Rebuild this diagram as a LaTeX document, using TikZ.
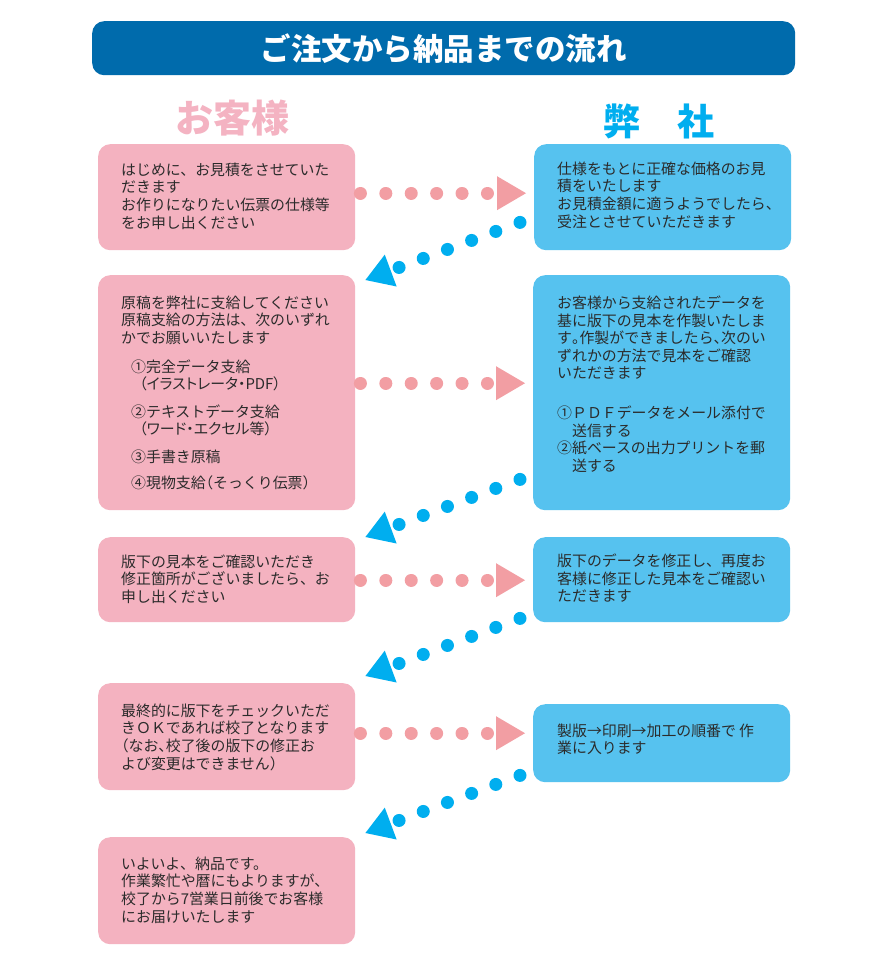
\documentclass[tikz,border=0pt]{standalone}
\usepackage{fontspec}
\setmainfont{Noto Sans CJK JP}
\newfontfamily\cjkhalt[RawFeature=+halt]{Noto Sans CJK JP}
\newfontfamily\cjkpalt[RawFeature=+palt]{Noto Sans CJK JP}
\newcommand{\hw}[1]{{\cjkhalt #1}}
\usetikzlibrary{arrows.meta,calc}
\definecolor{barblue}{HTML}{006BAC}
\definecolor{boxpink}{HTML}{F4B2C0}
\definecolor{boxblue}{HTML}{56C2EF}
\definecolor{arrowpink}{HTML}{F29EA3}
\definecolor{arrowblue}{HTML}{00AEEF}
\definecolor{headpink}{HTML}{F4B3C2}
\definecolor{headcyan}{HTML}{00AEEF}
\definecolor{txtgray}{HTML}{2B2B2B}
\tikzset{
  pbox/.style={fill=boxpink, rounded corners=12pt, anchor=north west, minimum width=257pt, inner sep=0pt},
  bbox/.style={fill=boxblue, rounded corners=12pt, anchor=north west, minimum width=257pt, inner sep=0pt},
  txt/.style={anchor=north west, inner sep=0pt, align=left, text=txtgray,
    font=\fontsize{14.9pt}{17.6pt}\selectfont},
  pinkflow/.style={draw=arrowpink, line width=13pt, line cap=round,
    dash pattern=on 0.01pt off 25.4pt, dash phase=20.4pt, shorten >=8pt,
    -{Triangle[length=29pt,width=34pt,line width=0pt]}},
  blueflow/.style={draw=arrowblue, line width=13pt, line cap=round,
    dash pattern=on 0.01pt off 25.8pt,
    -{Triangle[length=27pt,width=34pt,line width=0pt]}},
}
\begin{document}
\begin{tikzpicture}[x=1pt,y=-1pt]
\fill[white] (0,0) rectangle (876,974);
\useasboundingbox (0,0) rectangle (876,974);

% title
\node[fill=barblue, rounded corners=12pt, anchor=north west, minimum width=703pt,
  minimum height=54pt, inner sep=0pt, text=white,
  font=\bfseries\fontsize{30.5pt}{32pt}\selectfont] (title) at (92,21) {ご注文から納品までの流れ};

% headings
\node[text=headpink, font=\bfseries\fontsize{38pt}{40pt}\selectfont] (cust) at (232,118) {お客様};
\node[text=headcyan, font=\bfseries\fontsize{37pt}{40pt}\selectfont] (us) at (658.5,121) {弊　社};

% boxes
\node[pbox, minimum height=106pt] (l1) at (98,144) {};
\node[pbox, minimum height=235pt] (l2) at (98,275) {};
\node[pbox, minimum height=85pt]  (l3) at (98,537) {};
\node[pbox, minimum height=107pt] (l4) at (98,683) {};
\node[pbox, minimum height=107pt] (l5) at (98,837) {};
\node[bbox, minimum height=106pt] (r1) at (534,144) {};
\node[bbox, minimum height=235pt] (r2) at (533,275) {};
\node[bbox, minimum height=85pt]  (r3) at (533,537) {};
\node[bbox, minimum height=78pt]  (r4) at (533,704) {};

% texts
\node[txt] (l1t) at (121,162.6) {はじめに、お見積をさせていた\\だきます\\お作りになりたい伝票の仕様等\\をお申し出ください};
\node[txt] (r1t) at (557,161.6) {仕様をもとに正確な価格のお見\\積をいたします\\お見積金額に適うようでしたら、\\受注とさせていただきます};
\node[txt] (l2t) at (121,295.6) {原稿を弊社に支給してください\\原稿支給の方法は、次のいずれ\\かでお願いいたします\\[11pt]
\hspace*{10pt}①完全データ支給\\
\hspace*{18pt}{\cjkpalt （イラストレータ・PDF）}\\[10pt]
\hspace*{10pt}②テキストデータ支給\\
\hspace*{18pt}{\cjkpalt （ワード・エクセル等）}\\[10pt]
\hspace*{10pt}③手書き原稿\\[8pt]
\hspace*{10pt}④現物支給\hw{（}そっくり伝票\hw{）}};
\node[txt] (r2t) at (557,295.6) {お客様から支給されたデータを\\基に版下の見本を作製いたしま\\す\hw{。}作製ができましたら\hw{、}次のい\\ずれかの方法で見本をご確認\\いただきます\\[22pt]
①ＰＤＦデータをメール添付で\\　送信する\\②紙ベースの出力プリントを郵\\　送する};
\node[txt] (l3t) at (121,554.6) {版下の見本をご確認いただき\\修正箇所がございましたら、お\\申し出ください};
\node[txt] (r3t) at (557,553.6) {版下のデータを修正し、再度お\\客様に修正した見本をご確認い\\ただきます};
\node[txt] (l4t) at (121,703.6) {最終的に版下をチェックいただ\\きＯＫであれば校了となります\\\hw{（}なお\hw{、}校了後の版下の修正お\\よび変更はできません）};
\node[txt] (r4t) at (557,723.6) {製版→印刷→加工の順番で\hspace{3pt}作\\業に入ります};
\node[txt] (l5t) at (121,856.6) {いよいよ、納品です。\\作業繁忙や暦にもよりますが、\\校了から7営業日前後でお客様\\にお届けいたします};

% pink flows (customer -> company)
\coordinate (p1) at ([yshift=4pt]l1.east);
\coordinate (p2) at ([yshift=9.5pt]l2.east);
\coordinate (p3) at ([yshift=-0.5pt]l3.east);
\coordinate (p4) at ([yshift=3.5pt]l4.east);
\draw[pinkflow] (p1) -- (p1 -| r1.west);
\draw[pinkflow] (p2) -- (p2 -| r2.west);
\draw[pinkflow] (p3) -- (p3 -| r3.west);
\draw[pinkflow] (p4) -- (p4 -| r4.west);

% blue flows (company -> customer)
\coordinate (b1s) at ($(r1.south west)+(-14,-28)$);
\coordinate (b1e) at ($(l2.north east)+(10,5)$);
\coordinate (b2s) at ($(r2.south west)+(-13,-31)$);
\coordinate (b2e) at ($(l3.north east)+(10,0)$);
\coordinate (b3s) at ($(r3.south west)+(-13,-4)$);
\coordinate (b3e) at ($(l4.north east)+(10,-7)$);
\coordinate (b4s) at ($(r4.south west)+(-13,-7)$);
\coordinate (b4e) at ($(l5.north east)+(10,-4)$);
\draw[blueflow] (b1s) -- (b1e);
\draw[blueflow] (b2s) -- (b2e);
\draw[blueflow] (b3s) -- (b3e);
\draw[blueflow] (b4s) -- (b4e);
\end{tikzpicture}
\end{document}
